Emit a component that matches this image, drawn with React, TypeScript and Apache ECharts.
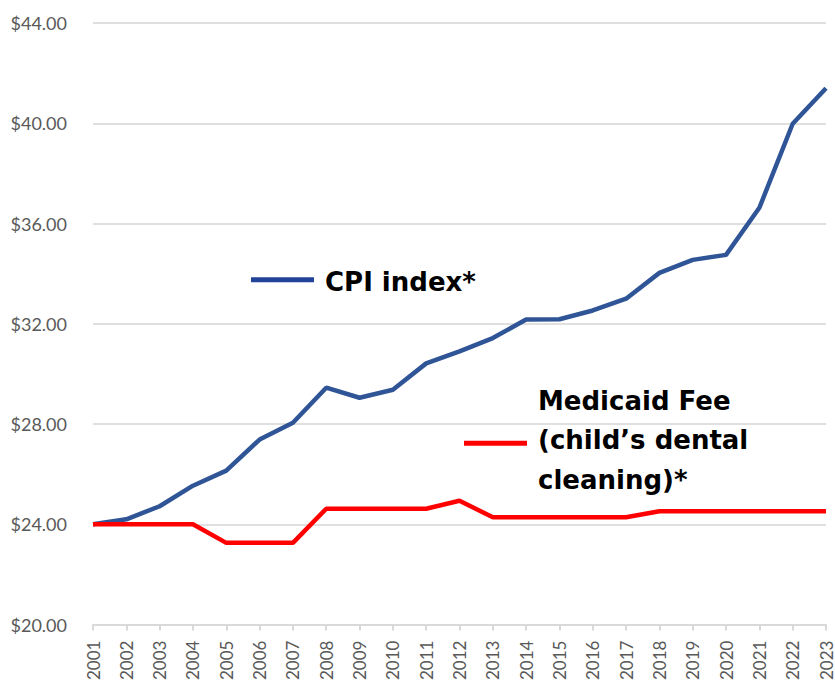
import React, { useEffect, useRef } from "react";
import * as echarts from "echarts";

const years = [
  "2001", "2002", "2003", "2004", "2005", "2006", "2007", "2008", "2009", "2010",
  "2011", "2012", "2013", "2014", "2015", "2016", "2017", "2018", "2019", "2020",
  "2021", "2022", "2023",
];

const cpiIndex = [
  24.0, 24.2, 24.72, 25.54, 26.14, 27.38, 28.05, 29.45, 29.05, 29.37,
  30.42, 30.9, 31.43, 32.17, 32.18, 32.53, 33.0, 34.03, 34.55, 34.75,
  36.63, 39.98, 41.4,
];

const medicaidFee = [
  24.0, 24.0, 24.0, 24.0, 23.26, 23.26, 23.26, 24.62, 24.62, 24.62,
  24.62, 24.94, 24.28, 24.28, 24.28, 24.28, 24.28, 24.52, 24.52, 24.52,
  24.52, 24.52, 24.52,
];

const cpiLabel = "CPI index*";
const medicaidLabel = "Medicaid Fee\n(child\u2019s dental\ncleaning)*";

export default function App() {
  const ref = useRef<HTMLDivElement>(null);

  useEffect(() => {
    if (!ref.current) return;
    const chart = echarts.init(ref.current, undefined, { renderer: "svg" });
    chart.setOption({
      animation: false,
      backgroundColor: "#ffffff",
      grid: { left: 93, right: 9, top: 23, bottom: 58, containLabel: false },
      xAxis: {
        type: "category",
        data: years,
        boundaryGap: false,
        axisLine: { lineStyle: { color: "#d9d9d9", width: 2 } },
        axisTick: { show: true, length: 6, lineStyle: { color: "#d9d9d9", width: 2 } },
        axisLabel: {
          rotate: 90,
          margin: 16,
          color: "#595959",
          fontFamily: "Lato",
          fontSize: 17,
          interval: 0,
        },
        splitLine: { show: false },
      },
      yAxis: {
        type: "value",
        min: 20,
        max: 44,
        interval: 4,
        axisLine: { show: false },
        axisTick: { show: false },
        axisLabel: {
          margin: 26,
          color: "#595959",
          fontFamily: "Lato",
          fontSize: 18,
          formatter: (v: number) => "$" + v.toFixed(2),
        },
        splitLine: { lineStyle: { color: "#e0e0e0", width: 2 } },
      },
      series: [
        {
          name: cpiLabel,
          type: "line",
          data: cpiIndex,
          symbol: "none",
          lineStyle: { color: "#2F5597", width: 4.5 },
          itemStyle: { color: "#2F5597" },
        },
        {
          name: medicaidLabel,
          type: "line",
          data: medicaidFee,
          symbol: "none",
          lineStyle: { color: "#FF0000", width: 4.5 },
          itemStyle: { color: "#FF0000" },
        },
      ],
      graphic: [
        {
          type: "line",
          shape: { x1: 251, y1: 279.7, x2: 314, y2: 279.7 },
          style: { stroke: "#22439A", lineWidth: 5 },
        },
        {
          type: "text",
          x: 325,
          y: 282,
          style: {
            text: cpiLabel,
            fill: "#000000",
            font: "bold 26px 'DejaVu Sans'",
            verticalAlign: "middle",
            align: "left",
          },
        },
        {
          type: "line",
          shape: { x1: 464, y1: 443.3, x2: 527, y2: 443.3 },
          style: { stroke: "#FF0000", lineWidth: 5 },
        },
        {
          type: "text",
          x: 538,
          y: 440,
          style: {
            text: medicaidLabel,
            fill: "#000000",
            font: "bold 26px 'DejaVu Sans'",
            lineHeight: 39.5,
            verticalAlign: "middle",
            align: "left",
          },
        },
      ],
    });
    return () => chart.dispose();
  }, []);

  return (
    <div
      ref={ref}
      style={{ position: "absolute", left: 0, top: 0, width: 835, height: 683 }}
    />
  );
}
